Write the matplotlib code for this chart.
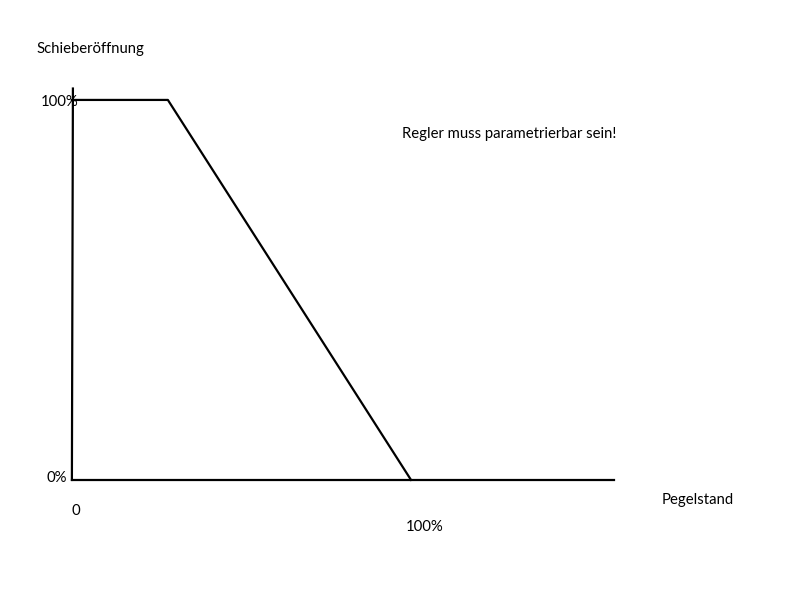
import matplotlib.pyplot as plt

# Regelkennlinie: Schieberöffnung über Pegelstand (in %)
pegel = [0, 28.3, 100]
oeffnung = [100, 100, 0]

# Achsen der Skizze
y_achse_x = [0, 0.3]
y_achse_y = [0, 103]
x_achse_x = [0, 160]
x_achse_y = [0, 0]

plt.rcParams['font.family'] = ['Lato', 'DejaVu Sans']

fig = plt.figure(figsize=(8, 6), dpi=100)
ax = fig.add_axes([0, 0, 1, 1])
ax.set_xlim(-21.2, 214.7)
ax.set_ylim(-31.6, 126.3)
ax.axis('off')

ax.plot(y_achse_x, y_achse_y, color='black', lw=1.6)
ax.plot(x_achse_x, x_achse_y, color='black', lw=1.6)
ax.plot(pegel, oeffnung, color='black', lw=1.6)

fs = 10.7
ax.text(-10.4, 113.4, 'Schieberöffnung', fontsize=fs, va='center', ha='left')
ax.text(-9.2, 99.4, '100%', fontsize=fs, va='center', ha='left')
ax.text(-7.4, 0.5, '0%', fontsize=fs, va='center', ha='left')
ax.text(1.2, -8.2, '0', fontsize=fs, va='center', ha='center')
ax.text(98.5, -12.4, '100%', fontsize=fs, va='center', ha='left')
ax.text(174, -5.3, 'Pegelstand', fontsize=fs, va='center', ha='left')
ax.text(97.4, 91.0, 'Regler muss parametrierbar sein!', fontsize=fs, va='center', ha='left')

fig.savefig('out.png', dpi=100)
